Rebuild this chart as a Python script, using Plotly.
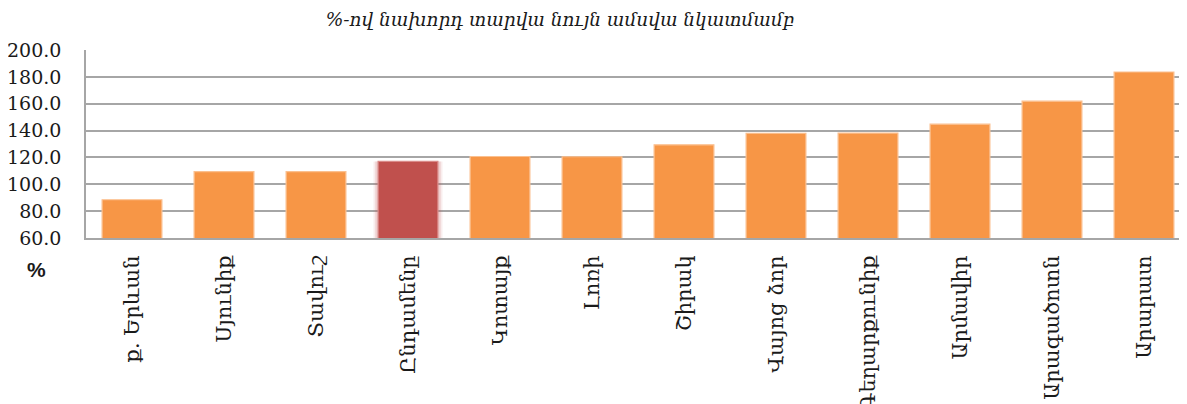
import plotly.graph_objects as go

categories = ["ք. Երևան", "Սյունիք", "Տավուշ", "Ընդամենը", "Կոտայք", "Լոռի",
              "Շիրակ", "Վայոց ձոր", "Գեղարքունիք", "Արմավիր", "Արագածոտն", "Արարատ"]
values = [88.5, 109.5, 109.5, 117.0, 120.7, 120.5, 129.4, 138.0, 138.1, 144.8, 161.9, 183.6]
highlight = "Ընդամենը"
tick_vals = [60, 80, 100, 120, 140, 160, 180, 200]
title_text = "%-ով նախորդ տարվա նույն ամսվա նկատմամբ"
unit_label = "%"

ORANGE = "#F79646"
RED = "#C0504D"
colors = [RED if c == highlight else ORANGE for c in categories]
edges = ["#D98A88" if c == highlight else "#FBC08F" for c in categories]

hl_x = [c for c in categories if c == highlight]
hl_y = [v for c, v in zip(categories, values) if c == highlight]

fig = go.Figure()
# soft glow behind the highlighted bar
fig.add_trace(go.Bar(x=hl_x, y=hl_y, width=0.75,
                     marker=dict(color="rgba(192,80,77,0.10)", line=dict(width=0)),
                     hoverinfo="skip"))
fig.add_trace(go.Bar(x=hl_x, y=hl_y, width=0.71,
                     marker=dict(color="rgba(192,80,77,0.18)", line=dict(width=0)),
                     hoverinfo="skip"))
fig.add_trace(go.Bar(
    x=categories, y=values,
    marker=dict(color=colors, line=dict(color=edges, width=1.2)),
    width=0.65,
))

# the page body has an 8px default margin, so the figure is offset by 8px
fig.update_layout(
    width=1182, height=396,
    margin=dict(l=78, r=0, t=42, b=166, autoexpand=False),
    barmode="overlay",
    paper_bgcolor="white", plot_bgcolor="white",
    showlegend=False,
    title=dict(text=title_text, x=0.467, xanchor="center", y=0.97, yanchor="middle",
               font=dict(family="DejaVu Serif", size=18.5, color="#1a1a1a", style="italic")),
    font=dict(family="DejaVu Serif", color="#1a1a1a"),
)
fig.update_xaxes(
    categoryorder="array", categoryarray=categories,
    tickangle=-90, tickfont=dict(family="DejaVu Serif", size=21, color="#1a1a1a"),
    showline=True, linecolor="#A6A6A6", linewidth=2,
    ticks="", ticklabelstandoff=7, automargin=False,
)
fig.update_yaxes(
    range=[60, 200], tickvals=tick_vals, tickformat=".1f",
    tickfont=dict(family="DejaVu Serif", size=19, color="#1a1a1a"),
    showgrid=True, gridcolor="#A6A6A6", gridwidth=1.5,
    showline=True, linecolor="#A6A6A6", linewidth=1.5,
    ticks="", ticklabelstandoff=19, automargin=False,
)
fig.add_annotation(text="<b>" + unit_label + "</b>", xref="paper", yref="paper",
                   x=-0.0445, y=-0.17, xanchor="center", yanchor="middle", showarrow=False,
                   font=dict(family="Liberation Sans", size=21, color="#1a1a1a"))

fig.write_html("out.html")
